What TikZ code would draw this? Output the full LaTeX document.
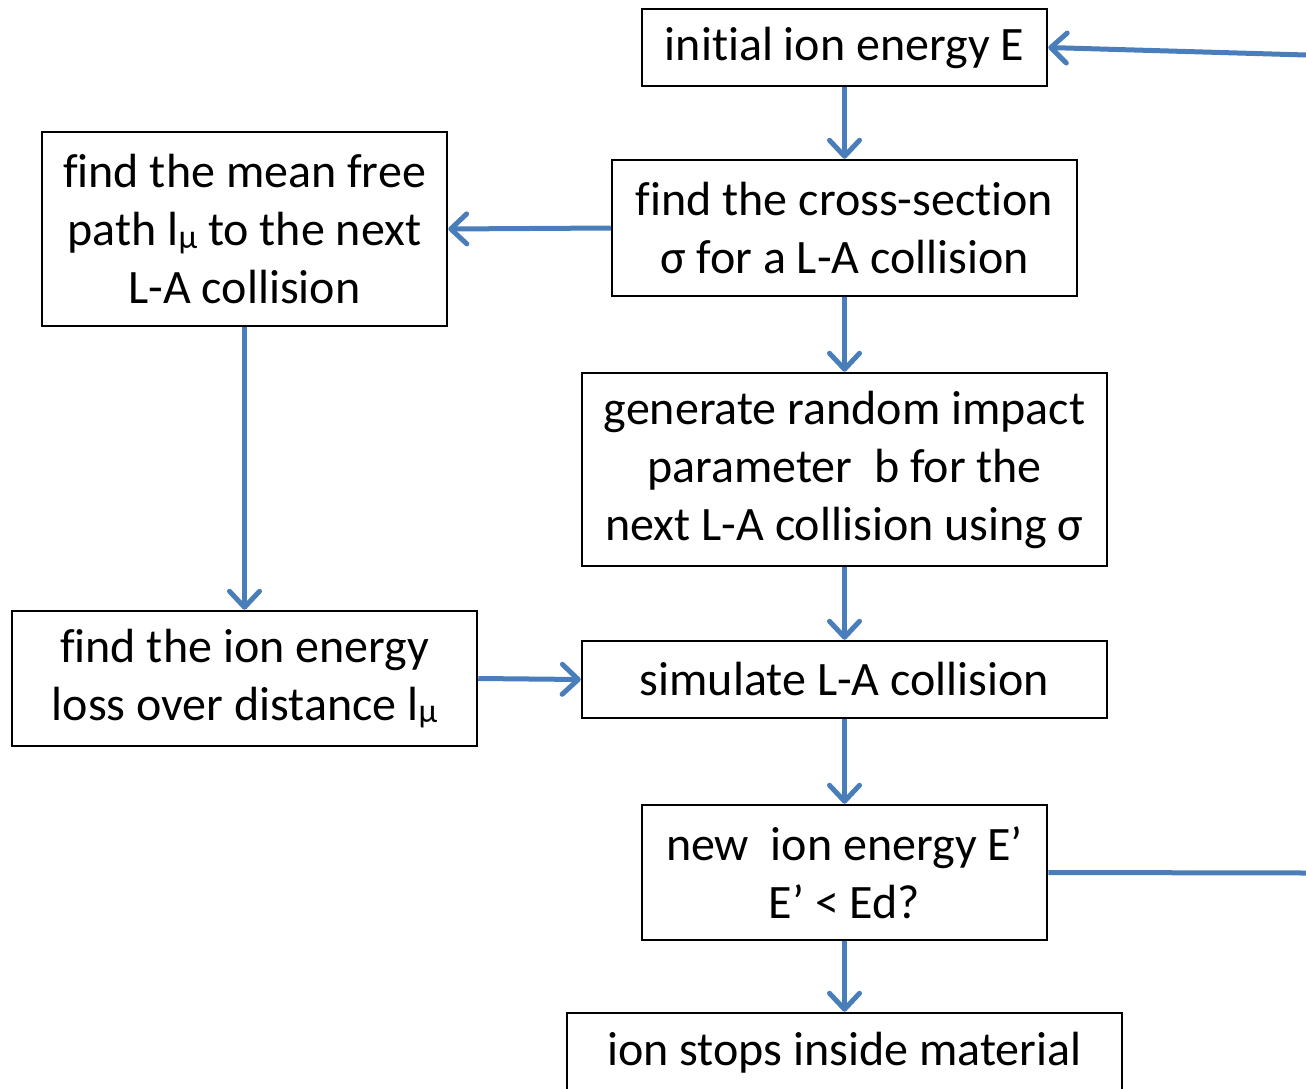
\documentclass[tikz,border=0pt]{standalone}
\usepackage{fontspec}
\setmainfont{Carlito}[Ligatures=NoCommon]
\usetikzlibrary{arrows.meta}
\definecolor{flowblue}{RGB}{74,126,187}
\newcommand{\lmu}{l\raisebox{-0.12ex}{\fontsize{34}{34}\selectfont μ}}
\begin{document}
\begin{tikzpicture}[x=1pt,y=-1pt,
  box/.style={draw, line width=2.5pt, inner sep=0pt, align=center,
    font=\fontsize{48}{58}\selectfont},
  flowline/.style={draw=flowblue, line width=5pt},
  flow/.style={flowline, -{Straight Barb[length=16pt,width=30pt,round]}}]
\useasboundingbox (0,0) rectangle (1306,1089);

% main column
\node[box, minimum width=405, minimum height=77]  (init)  at (844.5,47.5)  {initial ion energy E};
\node[box, minimum width=465, minimum height=136] (cross) at (844.5,228)   {find the cross-section\\σ for a L-A collision};
\node[box, minimum width=525, minimum height=193] (gen)   at (844.5,469.5) {generate random impact\\parameter\ \ b for the\\next L-A collision using σ};
\node[box, minimum width=525, minimum height=77]  (sim)   at (844.5,679.5) {simulate L-A collision};
\node[box, minimum width=405, minimum height=135] (newE)  at (844.5,872.5) {new\ \ ion energy E’\\E’ < Ed?};
\node[box, minimum width=555, minimum height=80]  (stop)  at (844.5,1053)  {ion stops inside material};

% side column
\node[box, minimum width=405, minimum height=194] (mfp)   at (244.5,229)   {find the mean free\\path \lmu\ to the next\\L-A collision};
\node[box, minimum width=465, minimum height=135] (loss)  at (244.5,678.5) {find the ion energy\\loss over distance \lmu};

% loop ends leaving the frame on the right
\coordinate (rin)  at (1306,55);
\coordinate (rout) at (1306,873);

\draw[flow] (init) -- (cross);
\draw[flow] (cross) -- (gen);
\draw[flow] (gen) -- (sim);
\draw[flow] (sim) -- (newE);
\draw[flow] (newE) -- (stop);
\draw[flow] (cross.west) -- (mfp.east);
\draw[flow] (mfp) -- (loss);
\draw[flow] (loss.east) -- (sim.west);
\draw[flow] (rin) -- (init.east);
\draw[flowline] (newE.east) -- (rout);
\end{tikzpicture}
\end{document}
